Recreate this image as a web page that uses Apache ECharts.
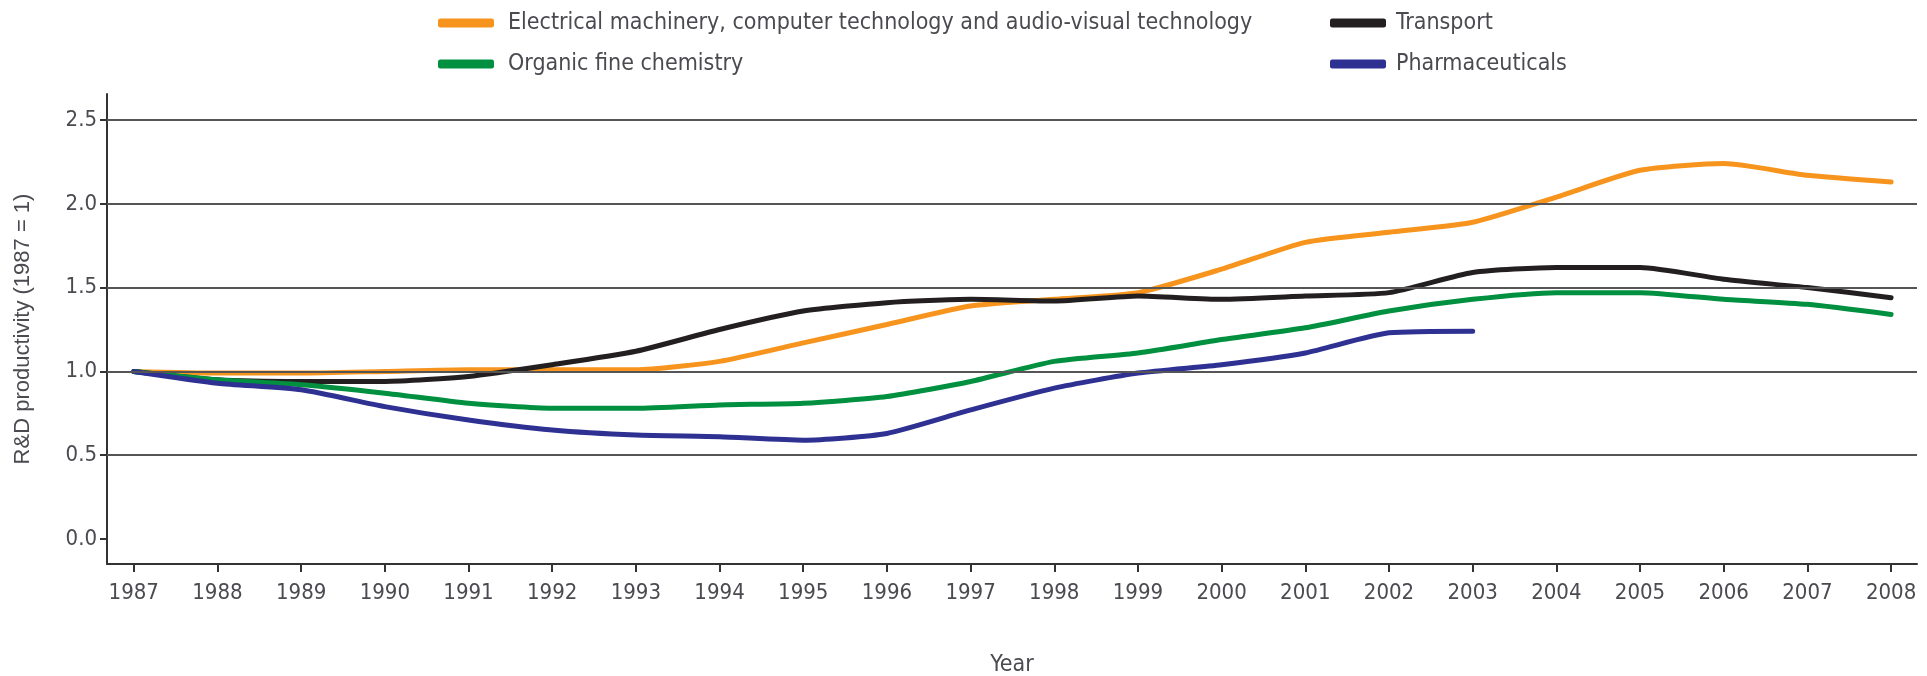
<!DOCTYPE html>
<html>
<head>
<meta charset="utf-8">
<title>R&D productivity</title>
<script src="https://cdn.jsdelivr.net/npm/echarts@6/dist/echarts.min.js"></script>
<style>
  html, body { margin: 0; padding: 0; background: #fff; }
  #main { width: 1927px; height: 676px; }
</style>
</head>
<body>
<div id="main"></div>
<script>
// data
const years = [1987, 1988, 1989, 1990, 1991, 1992, 1993, 1994, 1995, 1996, 1997,
  1998, 1999, 2000, 2001, 2002, 2003, 2004, 2005, 2006, 2007, 2008];
const electrical = [1.00, 0.99, 0.99, 1.00, 1.01, 1.01, 1.01, 1.06, 1.17, 1.28, 1.39,
  1.43, 1.47, 1.61, 1.77, 1.83, 1.89, 2.04, 2.20, 2.24, 2.17, 2.13];
const transport = [1.00, 0.95, 0.94, 0.94, 0.97, 1.04, 1.12, 1.25, 1.36, 1.41, 1.43,
  1.42, 1.45, 1.43, 1.45, 1.47, 1.59, 1.62, 1.62, 1.55, 1.50, 1.44];
const organic = [1.00, 0.95, 0.92, 0.87, 0.81, 0.78, 0.78, 0.80, 0.81, 0.85, 0.94,
  1.06, 1.11, 1.19, 1.26, 1.36, 1.43, 1.47, 1.47, 1.43, 1.40, 1.34];
// pharmaceuticals stops at 2003
const pharma = [1.00, 0.93, 0.89, 0.79, 0.71, 0.65, 0.62, 0.61, 0.59, 0.63, 0.77,
  0.90, 0.99, 1.04, 1.11, 1.23, 1.24];
const yTicks = [0, 0.5, 1.0, 1.5, 2.0, 2.5];

const names = [
  'Electrical machinery, computer technology and audio-visual technology',
  'Organic fine chemistry',
  'Transport',
  'Pharmaceuticals'
];

const pairs = (vals) => vals.map((v, i) => [years[i], v]);

const font = "'Liberation Sans Narrow', 'DejaVu Sans Condensed', sans-serif";
const textColor = '#4a4a50';

const myChart = echarts.init(document.getElementById('main'));

const lineSeries = (name, vals, color) => ({
  name: name,
  type: 'line',
  data: pairs(vals),
  smooth: 0.2,
  showSymbol: false,
  z: 3,
  lineStyle: { color: color, width: 5, cap: 'round', join: 'round' },
  itemStyle: { color: color }
});

const legendBase = (left, pad, data) => ({
  orient: 'vertical',
  left: left,
  top: 5,
  icon: 'roundRect',
  itemWidth: 56,
  itemHeight: 9,
  itemGap: 15,
  data: data,
  textStyle: { fontFamily: font, fontSize: 23, lineHeight: 26, color: textColor, padding: [0, 0, 0, pad] }
});

const option = {
  animation: false,
  legend: [
    legendBase(433, 9, [names[0], names[1]]),
    legendBase(1325, 5, [names[2], names[3]])
  ],
  // fixed plot box, no automatic shrinking for names/labels
  grid: { left: 107, right: 10, top: 94, bottom: 112, outerBoundsMode: 'none' },
  xAxis: {
    type: 'value',
    min: 1986.68,
    max: 2008.31,
    name: 'Year',
    nameLocation: 'middle',
    nameGap: 90,
    nameTextStyle: { fontFamily: font, fontSize: 23, color: textColor },
    axisLine: { show: true, onZero: false, lineStyle: { color: '#333', width: 2 } },
    axisTick: { show: true, customValues: years, length: 8, lineStyle: { color: '#333', width: 2 } },
    axisLabel: {
      customValues: years,
      formatter: (v) => String(v),
      fontFamily: font, fontSize: 22, color: textColor, margin: 18
    },
    splitLine: { show: false }
  },
  yAxis: {
    type: 'value',
    min: -0.149,
    max: 2.655,
    name: 'R&D productivity (1987 = 1)',
    nameLocation: 'middle',
    nameGap: 73,
    nameTextStyle: { fontFamily: "'Liberation Sans', Arial, sans-serif", fontSize: 22, color: textColor },
    axisLine: { show: true, onZero: false, lineStyle: { color: '#333', width: 2 } },
    axisTick: { show: true, customValues: yTicks, length: 7, lineStyle: { color: '#333', width: 2 } },
    axisLabel: {
      customValues: yTicks,
      formatter: (v) => v.toFixed(1),
      fontFamily: font, fontSize: 22, color: textColor, margin: 10
    },
    splitLine: { show: false }
  },
  series: [
    {
      // horizontal gridlines, drawn under the data lines
      name: 'gridlines',
      type: 'line',
      data: [],
      silent: true,
      z: 1,
      markLine: {
        silent: true,
        symbol: 'none',
        label: { show: false },
        lineStyle: { color: '#555', width: 2, type: 'solid' },
        data: yTicks.filter((t) => t > 0).map((t) => ({ yAxis: t }))
      }
    },
    lineSeries(names[0], electrical, '#f7941d'),
    lineSeries(names[2], transport, '#231f20'),
    lineSeries(names[1], organic, '#00903f'),
    lineSeries(names[3], pharma, '#2e3192')
  ]
};

myChart.setOption(option);
</script>
</body>
</html>
